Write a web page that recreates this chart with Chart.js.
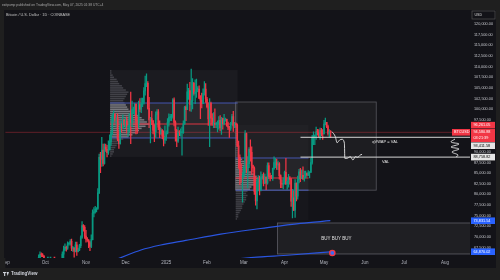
<!DOCTYPE html>
<html>
<head>
<meta charset="utf-8">
<script src="https://cdn.jsdelivr.net/npm/chart.js@4.4.1/dist/chart.umd.min.js"></script>
<style>
html, body { margin: 0; padding: 0; background: #1f1f1f; overflow: hidden; }
canvas { display: block; }
</style>
</head>
<body>
<canvas id="chart" width="500" height="280"></canvas>
<script>
// x = days from 1 Oct 2024, prices in thousands of USD
const firstDay = -11; // 20 Sep 2024

const opens = [
  62.9,63.2,63.4,63.6,63.3,64.3,63.1,65.2,65.9,65.8,65.6,
  63.3,60.8,60.6,60.7,62.1,62.1,62.8,62.2,62.1,60.6,60.3,62.4,63.2,62.8,66.0,67.0,67.6,67.4,68.4,68.4,69.0,67.4,67.4,66.7,68.2,66.6,67.0,68.0,69.9,72.7,72.3,
  70.2,69.5,69.3,68.7,67.8,69.4,75.6,75.9,76.5,76.7,80.4,88.7,88.3,90.4,87.3,91.1,90.6,89.8,90.5,92.3,94.3,98.4,98.9,97.7,98.0,93.0,91.9,95.9,95.6,97.5,
  96.4,97.2,95.9,96.0,98.8,96.9,99.9,99.9,101.2,97.4,96.6,101.1,100.0,101.4,101.4,104.3,106.0,106.1,100.2,97.5,97.8,97.2,95.1,94.7,98.7,99.4,95.8,94.2,95.1,93.7,92.8,
  93.4,94.4,96.9,98.1,98.2,98.3,102.2,96.9,95.0,92.5,94.7,94.5,94.5,94.5,96.5,100.5,99.9,104.1,104.4,101.1,102.0,106.1,103.7,104.0,104.7,104.7,102.6,102.1,101.3,103.7,104.7,
  102.4,100.6,97.7,101.4,97.9,96.6,96.6,96.5,96.5,96.5,97.4,95.7,97.8,96.6,97.5,97.6,96.1,95.8,95.5,96.6,98.3,96.1,96.6,96.3,91.4,88.7,84.7,84.3,
  84.4,86.0,94.3,86.1,87.2,90.6,89.9,86.8,86.2,80.7,78.5,82.9,83.7,81.1,83.9,84.3,82.6,84.1,82.7,86.8,84.2,84.1,83.8,86.1,87.5,87.5,86.9,87.2,84.4,82.6,82.4,
  82.5,85.2,82.5,83.1,83.8,83.5,78.4,79.2,76.3,82.6,79.6,83.4,85.3,83.7,84.5,83.6,84.0,84.9,84.5,85.1,85.2,87.5,93.4,93.7,93.9,94.7,94.6,93.7,95.0,94.3,
  94.2,96.5,96.9,95.9,94.3,94.7
];
const highs = [
  64.1,63.6,64.0,64.8,64.5,64.8,65.8,66.5,66.3,66.1,65.6,
  64.1,62.4,61.5,62.5,62.4,63.0,64.5,63.2,62.5,61.3,63.4,63.5,63.3,66.5,67.9,68.4,67.9,68.9,68.7,69.4,69.5,67.8,67.5,68.8,68.8,67.4,68.3,70.3,73.6,72.9,72.7,
  71.6,69.9,69.4,69.0,70.5,76.4,76.9,77.2,76.9,81.4,89.5,89.9,93.4,91.8,91.9,91.8,91.5,92.6,94.0,94.9,98.9,99.6,98.9,98.6,98.9,94.9,97.2,96.6,98.7,97.5,
  97.9,98.2,96.3,99.0,104.0,101.9,100.5,101.4,101.2,98.3,101.9,102.5,102.6,102.6,105.1,107.8,108.3,106.5,102.8,98.1,99.5,97.4,96.4,99.4,99.9,99.9,97.3,95.5,95.2,94.9,96.1,
  94.9,97.8,98.9,98.8,98.8,102.5,102.7,97.3,95.3,95.8,95.0,95.4,95.8,97.3,100.7,100.8,105.9,104.9,106.3,109.4,107.2,106.3,106.9,107.1,105.3,105.5,103.2,103.8,104.8,106.5,106.0,
  102.8,101.5,102.5,101.7,99.0,99.2,100.1,96.9,97.3,98.3,98.5,98.1,97.9,98.8,97.9,97.7,97.0,96.0,96.9,98.8,99.5,96.9,96.8,96.5,92.5,89.3,87.1,85.1,
  86.6,95.0,94.4,88.9,91.0,92.8,91.2,86.9,86.5,84.1,83.6,84.4,84.3,85.3,84.7,85.1,84.8,84.1,87.4,87.4,85.0,84.5,86.2,88.8,88.5,88.3,87.8,87.5,84.6,83.5,83.9,
  85.5,88.5,83.9,84.7,84.2,83.8,81.2,80.8,83.5,82.7,84.3,85.9,86.1,85.8,86.5,85.5,85.5,85.1,85.6,85.3,88.5,93.9,94.7,94.0,95.8,95.3,95.2,95.6,95.5,95.2,
  97.4,97.9,96.9,96.3,95.2,95.0
];
const lows = [
  62.4,62.8,62.4,62.7,62.7,62.9,62.7,64.8,65.4,65.4,62.9,
  60.2,60.0,59.8,60.5,61.7,61.8,62.1,61.8,60.3,58.9,60.1,62.4,61.8,62.4,64.8,66.8,66.7,67.1,68.1,68.1,66.8,66.6,65.3,66.5,65.7,66.5,66.8,67.5,69.7,71.4,69.7,
  68.8,69.0,67.5,66.8,67.5,69.3,74.7,75.6,75.9,76.5,80.2,85.1,86.6,86.7,87.1,90.1,88.8,89.4,90.4,91.5,94.0,97.2,97.2,95.8,92.6,90.8,91.8,94.6,95.4,96.1,
  95.7,94.4,93.6,94.6,91.9,95.9,99.0,98.7,94.2,94.3,95.7,99.4,99.2,100.6,101.2,103.3,105.3,100.0,95.7,92.1,96.4,94.2,92.4,93.4,97.6,95.2,93.3,94.1,93.1,91.4,92.0,
  92.7,94.2,96.0,97.3,97.3,97.9,96.1,92.5,91.2,92.2,93.8,93.7,89.2,94.3,96.5,97.3,99.9,102.3,99.6,99.5,100.1,103.3,101.3,102.8,104.1,102.5,97.8,100.3,101.3,103.3,101.6,
  100.3,96.2,91.2,96.2,96.2,95.7,95.7,95.7,94.7,95.3,94.9,94.1,95.3,96.3,97.2,96.0,95.2,93.4,95.0,96.3,94.8,95.7,95.8,91.2,86.1,82.3,82.8,78.2,
  83.8,85.1,85.1,81.5,86.3,87.8,84.7,85.2,80.0,77.5,76.6,80.8,79.9,80.8,83.6,82.0,82.5,81.1,82.4,83.7,83.2,83.7,83.3,85.9,86.3,85.9,85.8,83.6,81.6,81.6,81.3,
  82.4,82.3,81.2,81.7,82.4,77.2,74.5,76.2,74.6,78.5,78.9,82.7,83.0,83.7,83.6,83.1,83.9,84.3,84.4,83.9,85.1,87.1,91.7,91.7,92.9,93.9,93.5,92.9,93.8,92.9,
  94.2,96.3,95.7,93.9,93.5,93.4
];
const closes = [
  63.2,63.4,63.6,63.3,64.3,63.1,65.2,65.9,65.8,65.6,63.3,
  60.8,60.6,60.7,62.1,62.1,62.8,62.2,62.1,60.6,60.3,62.4,63.2,62.8,66.0,67.0,67.6,67.4,68.4,68.4,69.0,67.4,67.4,66.7,68.2,66.6,67.0,68.0,69.9,72.7,72.3,70.2,
  69.5,69.3,68.7,67.8,69.4,75.6,75.9,76.5,76.7,80.4,88.7,88.3,90.4,87.3,91.1,90.6,89.8,90.5,92.3,94.3,98.4,98.9,97.7,98.0,93.0,91.9,95.9,95.6,97.5,96.4,
  97.2,95.9,96.0,98.8,96.9,99.9,99.9,101.2,97.4,96.6,101.1,100.0,101.4,101.4,104.3,106.0,106.1,100.2,97.5,97.8,97.2,95.1,94.7,98.7,99.4,95.8,94.2,95.1,93.7,92.8,93.4,
  94.4,96.9,98.1,98.2,98.3,102.2,96.9,95.0,92.5,94.7,94.5,94.5,94.5,96.5,100.5,99.9,104.1,104.4,101.1,102.0,106.1,103.7,104.0,104.7,104.7,102.6,102.1,101.3,103.7,104.7,102.4,
  100.6,97.7,101.4,97.9,96.6,96.6,96.5,96.5,96.5,97.4,95.7,97.8,96.6,97.5,97.6,96.1,95.8,95.5,96.6,98.3,96.1,96.6,96.3,91.4,88.7,84.7,84.3,84.4,
  86.0,94.3,86.1,87.2,90.6,89.9,86.8,86.2,80.7,78.5,82.9,83.7,81.1,83.9,84.3,82.6,84.1,82.7,86.8,84.2,84.1,83.8,86.1,87.5,87.5,86.9,87.2,84.4,82.6,82.4,82.5,
  85.2,82.5,83.1,83.8,83.5,78.4,79.2,76.3,82.6,79.6,83.4,85.3,83.7,84.5,83.6,84.0,84.9,84.5,85.1,85.2,87.5,93.4,93.7,93.9,94.7,94.6,93.7,95.0,94.3,94.2,
  96.5,96.9,95.9,94.3,94.7,94.58
];

// time axis
const monthTicks = [-30, 0, 31, 61, 92, 123, 151, 182, 212, 243, 273, 304];
const monthNames = ['Sep', 'Oct', 'Nov', 'Dec', '2025', 'Feb', 'Mar', 'Apr', 'May', 'Jun', 'Jul', 'Aug'];
// price axis
const priceTicks = [67.5, 70, 72.5, 75, 77.5, 80, 82.5, 85, 87.5, 90, 92.5, 95, 97.5, 100, 102.5, 105, 107.5, 110, 112.5, 115, 117.5, 120];
const hiddenTicks = [92.5, 95];

// volume profiles, bar length in days, rows of 0.5k
const profile1Rows = [1,2,3,3,4,5,6,8,10,14,17,20,22,24,27,30,28,26,24,22,18,16,14,13,12,11,10,11,12,13,14,12,10,9,7,6,5,3,2,1,1];
const profile2Rows = [1,2,2,3,4,5,5,6,7,8,8,9,8,9,11,12,14,15,16,17,16,14,12,10,10,9,8,7,5,3,2,2,2,2,2,1,1,1,1,1,1,1,1,1,0];

// indicator lines
const lineAX = [50, 56.1, 72.8, 87.9, 106.9, 133.4, 163.8, 194.1, 216.8];
const lineAY = [64.3, 65.0, 66.96, 68.13, 69.2, 70.7, 72.0, 73.2, 73.83];
const lineBX = [145, 152.4, 186.5, 216.8];
const lineBY = [64.8, 65.08, 65.79, 66.5];

// drawn path after the last candle
const pathX = [218.1, 220.6, 221.9, 223.9, 225.7, 227.5, 227.8, 229.5, 232.0, 234.0, 235.8, 237.5, 239.6, 240.9];
const pathY = [94.72, 93.55, 92.14, 92.78, 92.94, 92.0, 88.48, 88.48, 88.86, 88.08, 88.86, 88.72, 89.26, 89.42];
const scribbleX = [311.6, 308.6, 314.6, 308.6, 314.6, 309.3, 313.9, 312.4];
const scribbleY = [93.01, 92.31, 91.84, 91.13, 90.67, 89.96, 89.26, 88.79];

const lastPrice = 94.58088;
const qvwapVal = 93.41158;
const valLevel = 88.75882;
const axisValues = [96.26105, 94.58088, 93.41158, 88.75882, 73.83154, 64.87002];

const UP = '#089981', DOWN = '#f23645';
const FONT = 'Liberation Sans';

const fmt = v => (v * 1000).toLocaleString('en-US', { minimumFractionDigits: 2, maximumFractionDigits: 2 });
const pts = (xs, ys) => xs.map((x, i) => ({ x, y: ys[i] }));

const profiles = [
  { from: 49.3, to: 146.3, low: 88.8, high: 109.2, vah: 101.46, val: 93.25, poc: 96.53,
    rowLow: 88.75, rows: profile1Rows, boxFill: 'rgba(255,255,255,0.035)', vaFill: 'rgba(255,255,255,0.06)' },
  { from: 144.8, to: 200.2, low: 74.0, high: 96.3, vah: 88.55, val: 81.0, poc: 83.86,
    rowLow: 74.0, rows: profile2Rows, boxFill: 'rgba(255,255,255,0.02)', vaFill: 'rgba(255,255,255,0.02)' }
];

const frame = {
  id: 'frame',
  beforeDraw(chart) {
    const ctx = chart.ctx;
    ctx.save();
    ctx.fillStyle = '#1f1f1f';
    ctx.fillRect(0, 0, 500, 280);
    ctx.fillStyle = '#131318';
    ctx.fillRect(4, 10, 492, 258);
    ctx.textBaseline = 'middle';
    ctx.fillStyle = '#a8a8a8';
    ctx.font = '3.3px "' + FONT + '"';
    ctx.fillText('exitpump published on TradingView.com, May 07, 2025 01:38 UTC+4', 2, 5.3);
    ctx.fillStyle = '#c4c4c4';
    ctx.font = '3.8px "' + FONT + '"';
    ctx.fillText('Bitcoin / U.S. Dollar · 1D · COINBASE', 6, 15);
    // footer logo
    ctx.fillStyle = '#d1d4dc';
    ctx.fillRect(3, 272, 3.2, 1.1);
    ctx.fillRect(4.1, 272, 1.1, 4);
    ctx.beginPath();
    ctx.moveTo(6.6, 272); ctx.lineTo(9, 272); ctx.lineTo(7.6, 276); ctx.closePath();
    ctx.fill();
    ctx.font = 'bold 4.5px "' + FONT + '"';
    ctx.fillText('TradingView', 11, 274.2);
    // USD box
    ctx.fillStyle = '#131318';
    ctx.strokeStyle = '#5a5a5a';
    ctx.lineWidth = 0.6;
    ctx.fillRect(472, 11, 23, 8);
    ctx.strokeRect(472, 11, 23, 8);
    ctx.fillStyle = '#dcdcdc';
    ctx.font = '3.6px "' + FONT + '"';
    ctx.fillText('USD', 474.5, 15.2);
    ctx.restore();
  },
  beforeDatasetsDraw(chart) {
    const { ctx, chartArea: a, scales: { x, y } } = chart;
    ctx.save();
    ctx.beginPath();
    ctx.rect(a.left, a.top, a.right - a.left, a.bottom - a.top);
    ctx.clip();
    // drawn rectangle
    let x0 = x.getPixelForValue(144.8), x1 = x.getPixelForValue(251.7);
    let y0 = y.getPixelForValue(101.7), y1 = y.getPixelForValue(81.0);
    ctx.fillStyle = 'rgba(255,255,255,0.045)';
    ctx.fillRect(x0, y0, x1 - x0, y1 - y0);
    ctx.strokeStyle = 'rgba(150,150,160,0.5)';
    ctx.lineWidth = 0.8;
    ctx.strokeRect(x0, y0, x1 - x0, y1 - y0);
    // BUY box
    x0 = x.getPixelForValue(176.6); x1 = x.getPixelForValue(330);
    y0 = y.getPixelForValue(73.3); y1 = y.getPixelForValue(66.02);
    ctx.fillStyle = 'rgba(255,255,255,0.05)';
    ctx.fillRect(x0, y0, x1 - x0, y1 - y0);
    ctx.strokeStyle = 'rgba(150,150,160,0.55)';
    ctx.strokeRect(x0, y0, x1 - x0, y1 - y0);
    // profiles
    profiles.forEach(pf => {
      const px0 = x.getPixelForValue(pf.from), px1 = x.getPixelForValue(pf.to);
      const top = y.getPixelForValue(pf.high), bot = y.getPixelForValue(pf.low);
      ctx.fillStyle = pf.boxFill;
      ctx.fillRect(px0, top, px1 - px0, bot - top);
      const vaT = y.getPixelForValue(pf.vah), vaB = y.getPixelForValue(pf.val);
      ctx.fillStyle = pf.vaFill;
      ctx.fillRect(px0, vaT, px1 - px0, vaB - vaT);
      pf.rows.forEach((len, i) => {
        if (!len) return;
        const lo = pf.rowLow + i * 0.5, hi = lo + 0.5, mid = lo + 0.25;
        const inVA = mid >= pf.val && mid <= pf.vah;
        ctx.fillStyle = inVA ? 'rgba(210,210,215,0.48)' : 'rgba(150,150,160,0.32)';
        const ya = y.getPixelForValue(hi), yb = y.getPixelForValue(lo);
        ctx.fillRect(px0, ya + 0.3, x.getPixelForValue(pf.from + len) - px0, yb - ya - 0.6);
      });
      ctx.lineWidth = 1;
      ctx.strokeStyle = 'rgba(75,95,200,0.85)';
      [pf.vah, pf.val].forEach(v => {
        const yy = y.getPixelForValue(v);
        ctx.beginPath(); ctx.moveTo(px0, yy); ctx.lineTo(px1, yy); ctx.stroke();
      });
      ctx.strokeStyle = 'rgba(242,54,69,0.9)';
      const yp = y.getPixelForValue(pf.poc);
      ctx.beginPath(); ctx.moveTo(px0, yp); ctx.lineTo(px1, yp); ctx.stroke();
    });
    ctx.restore();
  },
  afterDatasetsDraw(chart) {
    const { ctx, scales: { x, y } } = chart;
    ctx.save();
    ctx.textAlign = 'center';
    ctx.textBaseline = 'middle';
    ctx.fillStyle = '#e2e2e2';
    ctx.font = '4px "' + FONT + '"';
    ctx.fillText('qVWAP = VAL', x.getPixelForValue(258.5), y.getPixelForValue(92.31));
    ctx.fillText('VAL', x.getPixelForValue(258.9), y.getPixelForValue(87.62));
    ctx.font = '4.5px "' + FONT + '"';
    ctx.fillText('BUY BUY BUY', x.getPixelForValue(221.4), y.getPixelForValue(69.54));
    ctx.restore();
  },
  afterDraw(chart) {
    const { ctx, chartArea: a, scales: { y } } = chart;
    const styles = [
      { bg: '#f23645', fg: '#ffffff' },
      { bg: '#f23645', fg: '#ffffff', sub: '03:21:39', tag: 'BTCUSD' },
      { bg: '#e6e6e6', fg: '#000000' },
      { bg: '#e6e6e6', fg: '#000000' },
      { bg: '#2962ff', fg: '#ffffff' },
      { bg: '#2962ff', fg: '#ffffff' }
    ];
    ctx.save();
    // the time axis is cut at the pane's left edge
    ctx.fillStyle = '#1f1f1f';
    ctx.fillRect(0, a.bottom, a.left, 10);
    ctx.textBaseline = 'middle';
    ctx.font = '3.8px "' + FONT + '"';
    let prevBottom = -1;
    axisValues.forEach((v, i) => {
      const s = styles[i];
      const h = s.sub ? 13 : 6.6;
      let top = y.getPixelForValue(v) - 3.3;
      if (top < prevBottom + 0.4) top = prevBottom + 0.4;
      if (top + h > a.bottom - 3) top = a.bottom - 3 - h;
      prevBottom = top + h;
      ctx.fillStyle = s.bg;
      ctx.fillRect(a.right + 1, top, 24, h);
      ctx.fillStyle = s.fg;
      ctx.fillText(fmt(v), a.right + 3.5, top + 3.4);
      if (s.sub) ctx.fillText(s.sub, a.right + 3.5, top + 9.4);
      if (s.tag) {
        ctx.fillStyle = s.bg;
        ctx.fillRect(a.right - 18, top, 18, 6.6);
        ctx.fillStyle = s.fg;
        ctx.fillText(s.tag, a.right - 16, top + 3.4);
      }
    });
    ctx.restore();
  }
};

const colors = closes.map((c, i) => c >= opens[i] ? UP : DOWN);

new Chart(document.getElementById('chart'), {
  type: 'bar',
  data: {
    datasets: [
      { type: 'line', data: pts(pathX, pathY), borderColor: '#e8e8e8', borderWidth: 0.9,
        pointRadius: 0, cubicInterpolationMode: 'monotone', order: 0 },
      { type: 'line', data: pts(scribbleX, scribbleY), borderColor: '#e8e8e8', borderWidth: 0.9,
        pointRadius: 0, tension: 0.4, order: 0 },
      { type: 'line', data: [{ x: 194.1, y: qvwapVal }, { x: 340, y: qvwapVal }], borderColor: '#d6d6d6',
        borderWidth: 1, pointRadius: 0, order: 1 },
      { type: 'line', data: [{ x: 194.1, y: valLevel }, { x: 340, y: valLevel }], borderColor: '#d6d6d6',
        borderWidth: 1, pointRadius: 0, order: 1 },
      { type: 'line', data: [{ x: 218.3, y: 66.26 }], showLine: false, pointRadius: 2.6,
        pointBackgroundColor: '#3d6cf0', pointBorderColor: '#f23645', pointBorderWidth: 1.4, order: 0 },
      { type: 'bar', data: opens.map((o, i) => ({ x: firstDay + i, y: [o, closes[i]] })),
        backgroundColor: colors, barThickness: 1, minBarLength: 0.8, grouped: false, order: 2 },
      { type: 'bar', data: opens.map((o, i) => ({ x: firstDay + i, y: [lows[i], highs[i]] })),
        backgroundColor: colors, barThickness: 0.6, grouped: false, order: 3 },
      { type: 'line', data: pts(lineAX, lineAY), borderColor: '#2a55e0', borderWidth: 1.2,
        pointRadius: 0, cubicInterpolationMode: 'monotone', order: 4 },
      { type: 'line', data: pts(lineBX, lineBY), borderColor: '#2a55e0', borderWidth: 1.2,
        pointRadius: 0, cubicInterpolationMode: 'monotone', order: 4 },
      { type: 'line', data: [{ x: -40, y: lastPrice }, { x: 340, y: lastPrice }],
        borderColor: 'rgba(242,54,69,0.35)', borderWidth: 1, pointRadius: 0, order: 5 }
    ]
  },
  options: {
    responsive: false,
    animation: false,
    devicePixelRatio: 1,
    layout: { padding: { left: 4, top: 10, right: 4, bottom: 12 } },
    plugins: { legend: { display: false }, tooltip: { enabled: false } },
    scales: {
      x: {
        type: 'linear', bounds: 'data', min: -30.3, max: 323, offset: false,
        grid: { display: false, drawTicks: false, offset: false }, border: { display: false },
        ticks: {
          autoSkip: false, maxRotation: 0, padding: 2, color: '#b2b5be',
          font: { family: FONT, size: 4.5 },
          callback: v => monthNames[monthTicks.indexOf(v)] || ''
        },
        afterBuildTicks: a => { a.ticks = monthTicks.map(v => ({ value: v })); },
        afterFit: a => { a.height = 10; a.paddingLeft = 0; a.paddingRight = 0; }
      },
      y: {
        position: 'right', bounds: 'data', min: 65.08, max: 123.29,
        grid: { display: false, drawTicks: false }, border: { display: false },
        ticks: {
          padding: 4, color: '#c3c5cb', font: { family: FONT, size: 3.8 },
          callback: v => hiddenTicks.includes(v) ? '' : fmt(v)
        },
        afterBuildTicks: a => { a.ticks = priceTicks.map(v => ({ value: v })); },
        afterFit: a => { a.width = 26; a.paddingTop = 0; a.paddingBottom = 0; }
      }
    }
  },
  plugins: [frame]
});
</script>
</body>
</html>
